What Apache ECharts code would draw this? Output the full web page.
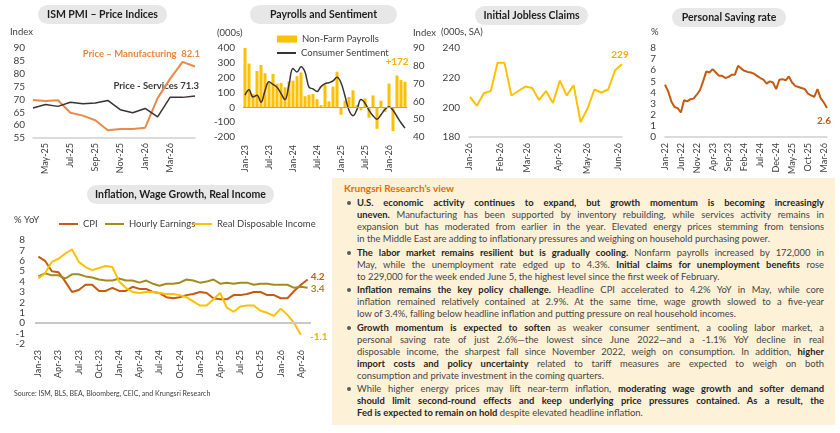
<!DOCTYPE html>
<html>
<head>
<meta charset="utf-8">
<script src="https://cdn.jsdelivr.net/npm/echarts@6/dist/echarts.min.js"></script>
<style>
html, body { margin: 0; padding: 0; background: #fff; }
#wrap { position: relative; width: 840px; height: 433px; overflow: hidden; }
#chart { position: absolute; left: 0; top: 0; width: 840px; height: 433px; }
#view {
  position: absolute; left: 332px; top: 178px; width: 503px; height: 247px;
  background: #FDF1D7; font-family: Lato, sans-serif; color: #454545; font-size: 9.4px;
}
#view .hd { margin: 4px 0 0 12px; height: 12px; line-height: 12px; font-size: 10px; font-weight: bold; color: #E36C0A; }
#view .p { position: relative; margin: 1.5px 0 0 25px; width: 467px; }
#view .p.first { margin-top: 3px; }
#view .p:before { content: ''; position: absolute; left: -10px; top: 4px; width: 4px; height: 4px; border-radius: 50%; background: #595959; }
#view .l { height: 12px; line-height: 12px; text-align: justify; text-align-last: justify; }
#view .l.last { text-align-last: left; }
#view b { color: #262626; }
</style>
</head>
<body>
<div id="wrap">
  <div id="chart"></div>
  <div id="view">
    <div class="hd">Krungsri Research’s view</div>
    <div class="p first">
      <div class="l"><b>U.S. economic activity continues to expand, but growth momentum is becoming increasingly</b></div>
      <div class="l"><b>uneven.</b> Manufacturing has been supported by inventory rebuilding, while services activity remains in</div>
      <div class="l">expansion but has moderated from earlier in the year. Elevated energy prices stemming from tensions</div>
      <div class="l last">in the Middle East are adding to inflationary pressures and weighing on household purchasing power.</div>
    </div>
    <div class="p">
      <div class="l"><b>The labor market remains resilient but is gradually cooling.</b> Nonfarm payrolls increased by 172,000 in</div>
      <div class="l">May, while the unemployment rate edged up to 4.3%. <b>Initial claims for unemployment benefits</b> rose</div>
      <div class="l last">to 229,000 for the week ended June 5, the highest level since the first week of February.</div>
    </div>
    <div class="p">
      <div class="l"><b>Inflation remains the key policy challenge.</b> Headline CPI accelerated to 4.2% YoY in May, while core</div>
      <div class="l">inflation remained relatively contained at 2.9%. At the same time, wage growth slowed to a five-year</div>
      <div class="l last">low of 3.4%, falling below headline inflation and putting pressure on real household incomes.</div>
    </div>
    <div class="p">
      <div class="l"><b>Growth momentum is expected to soften</b> as weaker consumer sentiment, a cooling labor market, a</div>
      <div class="l">personal saving rate of just 2.6%—the lowest since June 2022—and a -1.1% YoY decline in real</div>
      <div class="l">disposable income, the sharpest fall since November 2022, weigh on consumption. In addition, <b>higher</b></div>
      <div class="l"><b>import costs and policy uncertainty</b> related to tariff measures are expected to weigh on both</div>
      <div class="l last">consumption and private investment in the coming quarters.</div>
    </div>
    <div class="p">
      <div class="l">While higher energy prices may lift near-term inflation, <b>moderating wage growth and softer demand</b></div>
      <div class="l"><b>should limit second-round effects and keep underlying price pressures contained. As a result, the</b></div>
      <div class="l last"><b>Fed is expected to remain on hold</b> despite elevated headline inflation.</div>
    </div>
  </div>
</div>
<script>
// ---- data ----
var ismMonths = ['Apr-25','May-25','Jun-25','Jul-25','Aug-25','Sep-25','Oct-25','Nov-25','Dec-25','Jan-26','Feb-26','Mar-26','Apr-26','May-26'];
var ismMfg = [69.8,69.4,69.7,64.8,63.7,61.9,58.0,58.5,58.5,59.0,70.5,78.0,84.6,82.8];
var ismSvc = [66.7,68.0,67.3,68.9,68.3,68.6,69.6,66.0,64.8,66.5,63.2,70.8,70.8,71.3];

var months23 = ['Jan-23','Feb-23','Mar-23','Apr-23','May-23','Jun-23','Jul-23','Aug-23','Sep-23','Oct-23','Nov-23','Dec-23',
  'Jan-24','Feb-24','Mar-24','Apr-24','May-24','Jun-24','Jul-24','Aug-24','Sep-24','Oct-24','Nov-24','Dec-24',
  'Jan-25','Feb-25','Mar-25','Apr-25','May-25','Jun-25','Jul-25','Aug-25','Sep-25','Oct-25','Nov-25','Dec-25',
  'Jan-26','Feb-26','Mar-26','Apr-26','May-26'];
var payrolls = [400,295,90,245,285,230,165,225,160,165,135,175,180,210,235,75,85,90,55,15,155,40,140,240,-50,45,70,115,15,-20,60,-70,80,-145,45,-30,160,-160,215,185,172];
var sentiment = [63.5,66.5,62.5,63.5,59.5,66,71,69.5,68,64.5,61,69.5,78.5,76.5,79.5,76.5,68,67,65.5,68.3,70,70.5,71.5,73.5,70.5,63,55,52,55.5,61,59,55,52,50,52.5,55.5,57,55,51.5,48,45];

var claimDates = ['2026-01-02','2026-01-09','2026-01-16','2026-01-23','2026-01-30','2026-02-06','2026-02-13','2026-02-20','2026-02-27',
  '2026-03-06','2026-03-13','2026-03-20','2026-03-27','2026-04-03','2026-04-10','2026-04-17','2026-04-24','2026-05-01',
  '2026-05-08','2026-05-15','2026-05-22','2026-05-29','2026-06-05'];
var claims = [207,201,209.5,211,230,230,208,211,214,213,205,211,203,218,208,215,190,199,212,210,212,225,229];

var savingMonths = ['Jan-22','Feb-22','Mar-22','Apr-22','May-22','Jun-22','Jul-22','Aug-22','Sep-22','Oct-22','Nov-22','Dec-22',
  'Jan-23','Feb-23','Mar-23','Apr-23','May-23','Jun-23','Jul-23','Aug-23','Sep-23','Oct-23','Nov-23','Dec-23',
  'Jan-24','Feb-24','Mar-24','Apr-24','May-24','Jun-24','Jul-24','Aug-24','Sep-24','Oct-24','Nov-24','Dec-24',
  'Jan-25','Feb-25','Mar-25','Apr-25','May-25','Jun-25','Jul-25','Aug-25','Sep-25','Oct-25','Nov-25','Dec-25',
  'Jan-26','Feb-26','Mar-26','Apr-26'];
var saving = [4.7,4.1,3.2,2.7,2.6,2.2,3.3,3.2,3.4,3.45,3.8,4.2,5.0,5.9,5.8,6.1,5.8,5.5,5.5,5.3,5.4,5.6,5.6,6.4,6.15,5.95,5.85,5.8,5.7,5.5,5.3,5.15,4.8,5.0,4.9,4.3,5.15,5.2,5.1,5.45,4.9,4.6,4.5,4.4,4.3,3.9,3.75,3.6,4.3,3.5,3.1,2.6];

var cpi = [6.4,6.0,5.0,4.9,4.0,3.0,3.2,3.7,3.7,3.1,3.1,3.4,3.1,3.1,3.5,3.3,3.3,3.0,2.9,2.5,2.4,2.5,2.7,2.8,3.0,2.9,2.4,2.3,2.3,2.7,2.7,2.8,3.0,3.0,2.7,2.7,2.4,2.4,3.1,3.7,4.2];
var hourly = [4.5,4.8,4.6,4.6,4.3,4.7,4.7,4.5,4.4,4.2,4.1,4.1,4.3,4.1,4.1,3.9,4.1,3.8,3.6,3.8,3.8,3.9,4.2,4.1,3.9,4.0,4.2,3.8,3.9,3.8,3.9,3.9,3.7,3.8,3.8,3.7,3.7,3.7,3.4,3.5,3.4];
var rdi = [4.3,4.8,5.9,6.2,6.7,7.1,5.9,5.4,5.1,5.3,5.5,5.4,4.0,3.4,3.0,2.9,3.0,3.0,2.9,2.8,2.8,2.7,2.5,2.1,1.7,1.7,2.3,2.9,1.5,1.1,1.6,1.7,1.7,1.2,1.0,0.7,1.4,0.8,0.0,-1.1];

var MON = ['Jan','Feb','Mar','Apr','May','Jun','Jul','Aug','Sep','Oct','Nov','Dec'];
var txt = '#404040';
var axisGrey = '#D0D0D0';

// value label at the end of a line
function endLbl(color, opt) {
  return Object.assign({
    show: true, color: color, fontWeight: 'bold', fontSize: 10, fontFamily: 'Lato',
    formatter: function (p) { var v = Array.isArray(p.value) ? p.value[1] : p.value; return v.toFixed(1).replace(/\.0$/, ''); }
  }, opt);
}

function pill(x, y, w, h, text) {
  return {
    type: 'group',
    children: [
      { type: 'rect', shape: { x: x, y: y, width: w, height: h, r: h / 2 }, style: { fill: '#E7E7E7' } },
      { type: 'text', style: { x: x + w / 2, y: y + h / 2, text: text, align: 'center', verticalAlign: 'middle', font: 'bold 10.5px Lato', fill: '#1E1E1E' } }
    ]
  };
}
function note(x, y, text, opt) {
  return { type: 'text', style: Object.assign({ x: x, y: y, text: text, verticalAlign: 'middle', font: '9.5px Lato', fill: txt }, opt || {}) };
}
function lineLegend(left, top, name) {
  return { left: left, top: top, itemWidth: 19, itemHeight: 2, data: [{ name: name, icon: 'rect' }], textStyle: { fontSize: 9.5, color: txt } };
}

function catX(grid, data, opt) {
  return Object.assign({
    type: 'category', gridIndex: grid, data: data, boundaryGap: false,
    axisLine: { lineStyle: { color: axisGrey, width: 1.5 } },
    axisTick: { show: false },
    axisLabel: { rotate: 90, fontSize: 9, color: txt, margin: 6 }
  }, opt);
}
function valY(grid, min, max, step, opt) {
  return Object.assign({
    type: 'value', gridIndex: grid, min: min, max: max, interval: step,
    splitLine: { show: false }, axisLine: { show: false }, axisTick: { show: false },
    axisLabel: { fontSize: 10, color: txt, margin: 8 }
  }, opt);
}

var myChart = echarts.init(document.getElementById('chart'));

var option = {
  animation: false,
  textStyle: { fontFamily: 'Lato' },
  grid: [
    { left: 33, top: 48, width: 162, height: 90 },
    { left: 243, top: 48, width: 164, height: 89 },
    { left: 469, top: 48, width: 153, height: 89 },
    { left: 665, top: 48, width: 162, height: 89 },
    { left: 35, top: 240, width: 276, height: 104 }
  ],
  legend: [
    { left: 272, top: 29, itemWidth: 20, itemHeight: 7, data: [{ name: 'Non-Farm Payrolls', icon: 'rect' }], textStyle: { fontSize: 9.5, color: txt } },
    lineLegend(272, 43, 'Consumer Sentiment'),
    lineLegend(54, 214, 'CPI'),
    lineLegend(100, 214, 'Hourly Earnings'),
    lineLegend(188, 214, 'Real Disposable Income')
  ],
  xAxis: [
    catX(0, ismMonths, { axisLabel: { rotate: 90, fontSize: 9, color: txt, margin: 5, interval: function (i) { return i % 2 === 1 && i < 13; } } }),
    catX(1, months23, { boundaryGap: true, axisLine: { show: false, onZero: false }, axisLabel: { rotate: 90, fontSize: 9, color: txt, margin: 8, interval: 5 } }),
    {
      type: 'time', gridIndex: 2, min: '2026-01-01', max: '2026-06-05',
      minInterval: 28 * 86400000, maxInterval: 31 * 86400000,
      axisLine: { lineStyle: { color: axisGrey, width: 1.5 } }, axisTick: { show: false }, splitLine: { show: false },
      axisLabel: {
        rotate: 90, fontSize: 9, color: txt, margin: 6, showMinLabel: true, showMaxLabel: false,
        formatter: function (v) { var d = new Date(v); return MON[d.getMonth()] + '-' + String(d.getFullYear()).slice(2); }
      }
    },
    catX(3, savingMonths, { axisLabel: { rotate: 90, fontSize: 9, color: txt, margin: 6, interval: 4 } }),
    catX(4, months23, { boundaryGap: true, axisLine: { show: false, onZero: false }, axisLabel: { rotate: 90, fontSize: 9, color: txt, margin: 6, interval: 2 } })
  ],
  yAxis: [
    valY(0, 55, 90, 5),
    valY(1, -200, 400, 100),
    valY(1, 40, 90, 10, { position: 'right', axisLabel: { fontSize: 10, color: txt, margin: 6 } }),
    valY(2, 180, 240, 20, { axisLabel: { fontSize: 10, color: txt, margin: 9 } }),
    valY(3, 0, 8, 1, { axisLabel: { fontSize: 10, color: txt, margin: 9 } }),
    valY(4, -2, 8, 1, { axisLabel: { fontSize: 10, color: txt, margin: 10 } })
  ],
  series: [
    { name: 'Price - Manufacturing', type: 'line', xAxisIndex: 0, yAxisIndex: 0, data: ismMfg, symbol: 'none', lineStyle: { color: '#EA8A48', width: 2 }, itemStyle: { color: '#EA8A48' } },
    { name: 'Price - Services', type: 'line', xAxisIndex: 0, yAxisIndex: 0, data: ismSvc, symbol: 'none', lineStyle: { color: '#3B3133', width: 1.5 }, itemStyle: { color: '#3B3133' } },
    {
      name: 'Non-Farm Payrolls', type: 'bar', xAxisIndex: 1, yAxisIndex: 1, barWidth: 3,
      itemStyle: { color: '#FFC000' },
      data: payrolls.map(function (v, i) {
        return i === payrolls.length - 1 ? { value: v, label: { show: true, position: 'top', color: '#F5B400', fontWeight: 'bold', fontSize: 10, offset: [-8, -10], formatter: '+{c}' } } : v;
      }),
      markLine: { silent: true, symbol: ['none', 'none'], label: { show: false }, lineStyle: { color: '#A6A6A6', width: 1, type: 'solid' }, data: [{ yAxis: 0 }] }
    },
    { name: 'Consumer Sentiment', type: 'line', xAxisIndex: 1, yAxisIndex: 2, data: sentiment, smooth: 0.4, symbol: 'none', lineStyle: { color: '#3B3133', width: 1.5 }, itemStyle: { color: '#3B3133' } },
    {
      name: 'Initial Jobless Claims', type: 'line', xAxisIndex: 2, yAxisIndex: 3, symbol: 'none',
      lineStyle: { color: '#FFC000', width: 2 }, itemStyle: { color: '#FFC000' },
      data: claimDates.map(function (d, i) { return [d, claims[i]]; }),
      endLabel: endLbl('#F2B100', { align: 'center', distance: 0, offset: [-2, -10] })
    },
    {
      name: 'Personal Saving rate', type: 'line', xAxisIndex: 3, yAxisIndex: 4, symbol: 'none',
      lineStyle: { color: '#C55A11', width: 2 }, itemStyle: { color: '#C55A11' },
      data: saving,
      endLabel: endLbl('#C55A11', { align: 'center', distance: 0, offset: [-3, 13] })
    },
    {
      name: 'CPI', type: 'line', xAxisIndex: 4, yAxisIndex: 5, symbol: 'none',
      lineStyle: { color: '#C55A11', width: 2 }, itemStyle: { color: '#C55A11' },
      data: cpi,
      endLabel: endLbl('#C55A11', { distance: 3, offset: [0, -3] }),
      markLine: { silent: true, symbol: ['none', 'none'], label: { show: false }, lineStyle: { color: '#C8C8C8', width: 2, type: 'solid' }, data: [{ yAxis: 0 }] }
    },
    {
      name: 'Hourly Earnings', type: 'line', xAxisIndex: 4, yAxisIndex: 5, symbol: 'none',
      lineStyle: { color: '#A38B1D', width: 2 }, itemStyle: { color: '#A38B1D' },
      data: hourly,
      endLabel: endLbl('#A38B1D', { distance: 3, offset: [0, 1] })
    },
    {
      name: 'Real Disposable Income', type: 'line', xAxisIndex: 4, yAxisIndex: 5, symbol: 'none',
      lineStyle: { color: '#FFC000', width: 2 }, itemStyle: { color: '#FFC000' },
      data: rdi,
      endLabel: endLbl('#F2B100', { distance: 9, offset: [0, 2] })
    }
  ],
  graphic: {
    elements: [
      pill(38, 5, 129, 19, 'ISM PMI – Price Indices'),
      pill(250, 5, 147, 19, 'Payrolls and Sentiment'),
      pill(475, 6, 113, 19, 'Initial Jobless Claims'),
      pill(672, 8, 114, 19, 'Personal Saving rate'),
      pill(87, 185, 187, 19, 'Inflation, Wage Growth, Real Income'),
      note(10, 32, 'Index'),
      note(217, 33, '(000s)'),
      note(413, 33, 'Index'),
      note(441, 32, '(000s, SA)'),
      note(651, 32, '%'),
      note(14, 220, '% YoY'),
      note(200, 54, 'Price – Manufacturing  82.1', { align: 'right', font: 'bold 9.5px Lato', fill: '#E8853D' }),
      note(199, 86, 'Price - Services 71.3', { align: 'right', font: 'bold 9.5px Lato', fill: '#3B3B3B' }),
      note(14, 394, 'Source: ISM, BLS, BEA, Bloomberg, CEIC, and Krungsri Research', { font: '7px Lato' })
    ]
  }
};

myChart.setOption(option);
</script>
</body>
</html>
